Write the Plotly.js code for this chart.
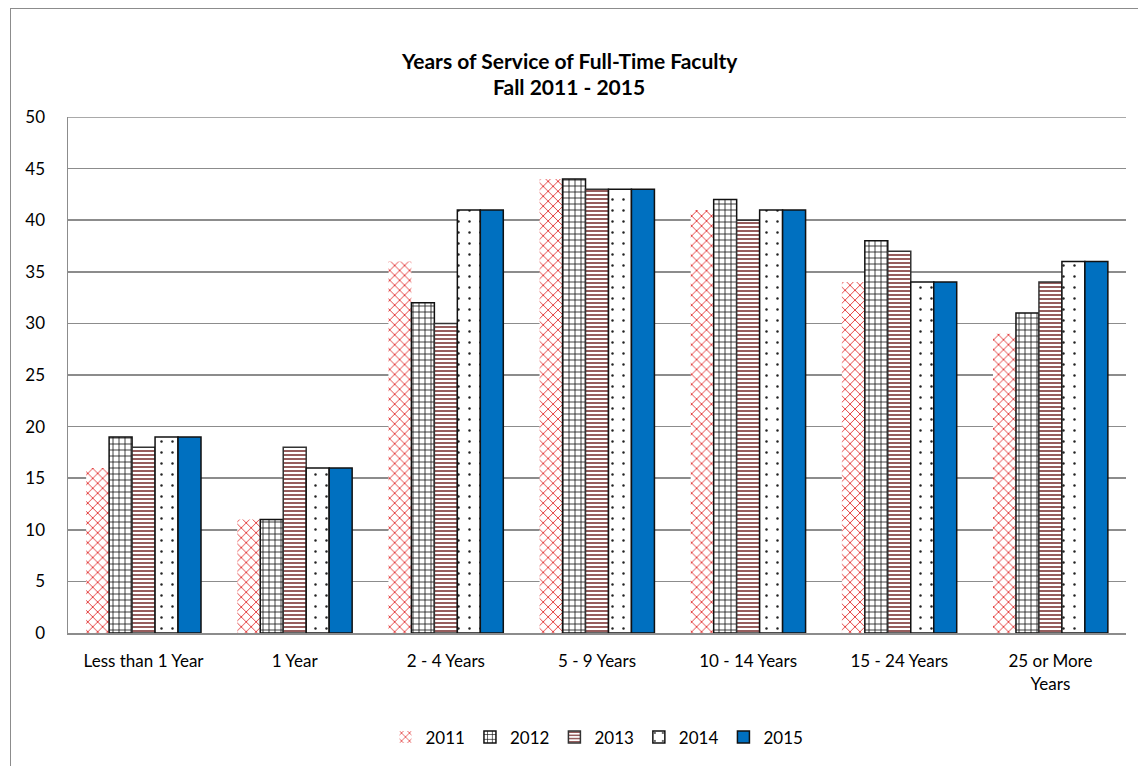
<!DOCTYPE html>
<html><head><meta charset="utf-8">
<script src="https://cdn.plot.ly/plotly-3.0.1.min.js"></script>
<style>
html,body{margin:0;padding:0;background:#fff;overflow:hidden;}
#frame{position:absolute;left:10px;top:8px;width:1200px;height:800px;border:1px solid #8c8c8c;box-sizing:border-box;}
#chart{position:absolute;left:0;top:0;width:1138px;height:766px;}
</style></head>
<body>
<div id="frame"></div>
<div id="chart"></div>
<script>
const categories = ["Less than 1 Year", "1 Year", "2 - 4 Years", "5 - 9 Years", "10 - 14 Years", "15 - 24 Years", "25 or More<br>Years"];
const seriesNames = ["2011", "2012", "2013", "2014", "2015"];
const v2011 = [16, 11, 36, 44, 41, 34, 29];
const v2012 = [19, 11, 32, 44, 42, 38, 31];
const v2013 = [18, 18, 30, 43, 40, 37, 34];
const v2014 = [19, 16, 41, 43, 41, 34, 36];
const v2015 = [19, 16, 41, 43, 41, 34, 36];
const titleLine1 = 'Years of Service of Full-Time Faculty';
const titleLine2 = 'Fall 2011 - 2015';
const yMax = 50;

const values = [v2011, v2012, v2013, v2014, v2015];
const styles = [
  {color:'#ffffff', pattern:{shape:'x', fgcolor:'#e23a3a', bgcolor:'#ffffff', size:7, solidity:0.25}, line:{width:0, color:'rgba(0,0,0,0)'}},
  {color:'#ffffff', pattern:{shape:'+', fgcolor:'#111111', bgcolor:'#ffffff', size:6, solidity:0.25}, line:{width:1.5, color:'#111111'}},
  {color:'#ffffff', pattern:{shape:'-', fgcolor:'#8a4a4a', bgcolor:'#ffffff', size:4, solidity:0.45}, line:{width:1.5, color:'#333333'}},
  {color:'#ffffff', pattern:{shape:'.', fgcolor:'#222222', bgcolor:'#ffffff', size:11, solidity:0.04}, line:{width:1.5, color:'#111111'}},
  {color:'#0070c0', line:{width:1.5, color:'#111111'}}
];

const traces = seriesNames.map((n, i) => ({
  type:'bar', name:n, x:categories, y:values[i],
  marker: styles[i], hoverinfo:'none'
}));

const fam = 'Lato, "Open Sans", sans-serif';
const W = 1138, ML = 68, MR = 12, MT = 117, MB = 132;
const pw = W - ML - MR, ph = 766 - MT - MB;
const layout = {
  width:W, height:766,
  paper_bgcolor:'rgba(0,0,0,0)', plot_bgcolor:'#ffffff',
  margin:{l:ML, r:MR, t:MT, b:MB},
  font:{family:fam, size:17, color:'#000'},
  annotations:[
    {text:'<b>' + titleLine1 + '</b>', xref:'paper', yref:'paper', x:(569-ML)/pw, y:(766-MB-60)/ph, xanchor:'center', yanchor:'middle', showarrow:false, font:{size:21, family:fam, color:'#000'}},
    {text:'<b>' + titleLine2 + '</b>', xref:'paper', yref:'paper', x:(569-ML)/pw, y:(766-MB-86)/ph, xanchor:'center', yanchor:'middle', showarrow:false, font:{size:21, family:fam, color:'#000'}}
  ],
  barmode:'group', bargap:0.24, bargroupgap:0,
  xaxis:{showline:true, linecolor:'#8c8c8c', linewidth:2, ticks:'', tickfont:{size:17}, showgrid:false, fixedrange:true, ticklabelstandoff:12},
  yaxis:{range:[0,yMax], dtick:5, showgrid:true, gridcolor:'#8c8c8c', gridwidth:1.5, showline:true, linecolor:'#8c8c8c', linewidth:1.5, ticks:'', tickfont:{size:17}, zeroline:false, fixedrange:true, ticklabelstandoff:18},
  shapes:[{type:'line', xref:'paper', x0:0, x1:1, yref:'y', y0:yMax, y1:yMax, line:{color:'#8c8c8c', width:1.5}}],
  legend:{orientation:'h', x:0.5, xanchor:'center', y:-0.2, yanchor:'middle', font:{size:17}, itemwidth:30, traceorder:'normal'},
  showlegend:true
};

Plotly.newPlot('chart', traces, layout, {displayModeBar:false, staticPlot:true});
</script>
</body></html>
